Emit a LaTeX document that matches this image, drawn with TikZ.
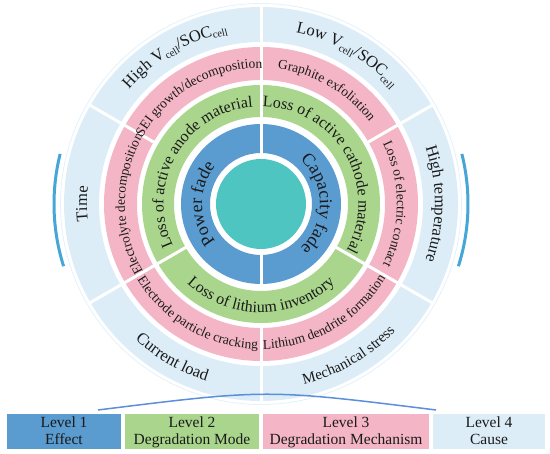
\documentclass[tikz,border=0pt]{standalone}
\usepackage{fontspec}
\setmainfont{Liberation Serif}
\usetikzlibrary{decorations.text}
\definecolor{cteal}{HTML}{4EC5C1}
\definecolor{cblue}{HTML}{5A9BD0}
\definecolor{cgreen}{HTML}{A9D68C}
\definecolor{cpink}{HTML}{F4B6C7}
\definecolor{clight}{HTML}{DCEDF8}
\definecolor{carc}{HTML}{45A6D7}
\definecolor{cbarc}{HTML}{5B8FD9}
\definecolor{txt}{HTML}{1A1A1A}
\newcommand\fB{\fontsize{18}{20}\selectfont}
\newcommand\fG{\fontsize{16}{18}\selectfont}
\newcommand\fP{\fontsize{13.5}{15}\selectfont}
\newcommand\fO{\fontsize{16.5}{18}\selectfont}
\newcommand\fM{\fontsize{15}{17}\selectfont}
\newcommand\fS{\fontsize{10.5}{11}\selectfont}
\newcommand\fL{\fontsize{15.5}{17}\selectfont}
\newcommand\arctext[5]{%
  \path[decorate,decoration={text along path,text align={align=center},text color=txt,text={|#4|#5}}]
    (C) ++(#2:#1) arc[start angle=#2,end angle=#3,radius=#1];}
\begin{document}
\begin{tikzpicture}[x=1pt,y=1pt,
  sep/.style={draw=white,line width=3pt},
  lvl/.style={rectangle,minimum height=35pt,inner sep=0pt,draw=none},
  lvltext/.style={anchor=base,text=txt,font=\fL,inner sep=0pt}]
\useasboundingbox (0,0) rectangle (550,454);
\coordinate (C) at (261,250);
% outline circle
\draw[clight!80!white,line width=0.8pt] (C) circle[radius=200.5];
% rings
\fill[clight,even odd rule] (C) circle[radius=197] (C) circle[radius=162];
\fill[cpink,even odd rule] (C) circle[radius=157] (C) circle[radius=124];
\fill[cgreen,even odd rule] (C) circle[radius=119] (C) circle[radius=87];
\fill[cblue,even odd rule] (C) circle[radius=80] (C) circle[radius=51];
\fill[cteal] (C) circle[radius=45];
% separators
\foreach \a in {90,270} \draw[sep] (C) ++(\a:50) -- ++(\a:31);
\foreach \a in {90,210,330} \draw[sep] (C) ++(\a:86) -- ++(\a:34);
\foreach \a in {30,90,150,210,270,330} \draw[sep] (C) ++(\a:123) -- ++(\a:35);
\foreach \a in {30,90,150,210,270,330} \draw[sep] (C) ++(\a:161) -- ++(\a:37);
% side arcs
\draw[carc,line width=3pt] (C) ++(166:207) arc[start angle=166,end angle=197.5,radius=207];
\draw[carc,line width=3pt] (C) ++(14:207) arc[start angle=14,end angle=-17.5,radius=207];
% bottom arc
\coordinate (ba) at (98,44);
\coordinate (bb) at (436,44);
\draw[cbarc,line width=1.5pt] (ba) .. controls (267,65) .. (bb);
% level 1 texts
\arctext{59}{228}{132}{\fB}{Power fade}
\arctext{59}{48}{-48}{\fB}{Capacity fade}
% level 2 texts
\arctext{97.5}{209}{91}{\fG}{Loss of active anode material}
\arctext{97.5}{89.5}{-29}{\fG}{Loss of active cathode material}
\arctext{108.5}{211}{329}{\fG}{Loss of lithium inventory}
% level 3 texts
\arctext{136}{149.5}{90.5}{\fP}{SEI growth/decomposition}
\arctext{136}{89.5}{30.5}{\fP}{Graphite exfoliation}
\arctext{136}{29.5}{-29.5}{\fP}{Loss of electric contact}
\arctext{136}{209.5}{150.5}{\fP}{Electrolyte decomposition}
\arctext{145}{210.5}{269.5}{\fP}{Electrode particle cracking}
\arctext{145}{270.5}{329.5}{\fP}{Lithium dendrite formation}
% level 4 texts
\arctext{175}{149.5}{90.5}{\fO}{High V{\raisebox{-3.5pt}{\fS cell}}/SOC{\raisebox{-3.5pt}{\fS cell}}}
\arctext{175}{89.5}{30.5}{\fO}{Low V{\raisebox{-3.5pt}{\fS cell}}/SOC{\raisebox{-3.5pt}{\fS cell}}}
\arctext{174}{29.5}{-29.5}{\fO}{High temperature}
\arctext{174}{209.5}{150.5}{\fO}{Time}
\arctext{185}{210.5}{269.5}{\fO}{Current load}
\arctext{185}{270.5}{329.5}{\fM}{Mechanical stress}
% legend boxes
\node[lvl,fill=cblue,minimum width=114pt] (l1) at (64,22.5) {};
\node[lvl,fill=cgreen,minimum width=134pt] (l2) at (192,22.5) {};
\node[lvl,fill=cpink,minimum width=166pt] (l3) at (346,22.5) {};
\node[lvl,fill=clight,minimum width=112pt] (l4) at (489,22.5) {};
\foreach \n/\a/\b in {l1/Level 1/Effect,l2/Level 2/Degradation Mode,l3/Level 3/Degradation Mechanism,l4/Level 4/Cause}{
  \node[lvltext] (\n a) at ([yshift=3.5pt]\n.center) {\a};
  \node[lvltext] (\n b) at ([yshift=-13.5pt]\n.center) {\b};
}
\end{tikzpicture}
\end{document}
